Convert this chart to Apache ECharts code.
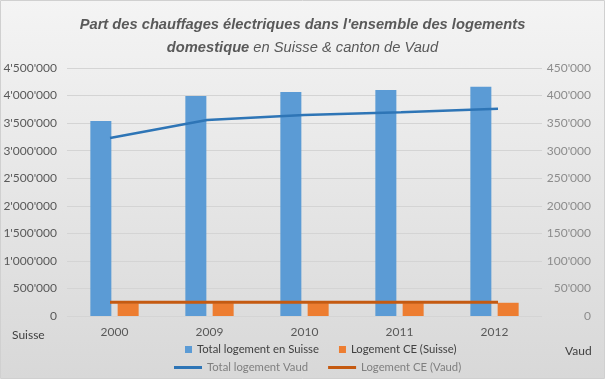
<!DOCTYPE html>
<html><head><meta charset="utf-8">
<script src="https://cdn.jsdelivr.net/npm/echarts@6/dist/echarts.min.js"></script>
<style>html,body{margin:0;padding:0;background:#fff}#c{width:605px;height:379px}</style>
</head><body><div id="c"></div>
<script>
var categories = ['2000', '2009', '2010', '2011', '2012'];
var totalSuisse = [3538000, 3990000, 4065000, 4100000, 4160000];
var ceSuisse = [230000, 232000, 232000, 232000, 240000];
var totalVaud = [323000, 355600, 364700, 369600, 376000];
var ceVaud = [25000, 25000, 25000, 25000, 25000];
var FONT = 'Lato';
var TFONT = 'Liberation Sans';

function fmt(v) { return String(v).replace(/\B(?=(\d{3})+(?!\d))/g, "'"); }

var chart = echarts.init(document.getElementById('c'), null, {renderer: 'canvas'});
chart.setOption({
  animation: false,
  textStyle: {fontFamily: FONT},
  graphic: [
    {type: 'rect', z: -10, silent: true, shape: {x: 0.5, y: 0.5, width: 604, height: 378},
      style: {fill: new echarts.graphic.LinearGradient(0, 0, 0, 1, [{offset: 0, color: '#f4f4f4'}, {offset: 1, color: '#d8d8d8'}]), stroke: '#d0d0d0', lineWidth: 1}},
    {type: 'text', left: 12, top: 329, style: {text: 'Suisse', fill: '#404040', font: '12px ' + FONT}},
    {type: 'text', left: 565, top: 345, style: {text: 'Vaud', fill: '#404040', font: '12px ' + FONT}}
  ],
  title: {
    left: 'center', top: 8,
    text: '{b|Part des chauffages électriques dans l\'ensemble des logements}\n{b|domestique}{n| en Suisse & canton de Vaud}',
    textStyle: {
      rich: {
        b: {fontFamily: TFONT, fontSize: 14.7, fontWeight: 700, fontStyle: 'italic', color: '#595959', lineHeight: 23},
        n: {fontFamily: TFONT, fontSize: 14.7, fontWeight: 400, fontStyle: 'italic', color: '#595959', lineHeight: 23}
      }
    }
  },
  legend: [
    {data: ['Total logement en Suisse', 'Logement CE (Suisse)'], left: 185, top: 344, padding: 0,
      icon: 'rect', itemWidth: 7, itemHeight: 7, itemGap: 20,
      textStyle: {color: '#404040', fontSize: 11.3, fontFamily: FONT}},
    {data: ['Total logement Vaud', 'Logement CE (Vaud)'], left: 174, top: 362, padding: 0,
      icon: 'rect', itemWidth: 28, itemHeight: 3, itemGap: 20,
      textStyle: {color: '#7f7f7f', fontSize: 11.3, fontFamily: FONT}}
  ],
  grid: [
    {left: 67, right: 63, top: 68, bottom: 63},
    {left: 110, right: 107, top: 68, bottom: 63}
  ],
  xAxis: [
    {type: 'category', gridIndex: 0, data: categories,
      axisLine: {show: false}, axisTick: {show: false},
      axisLabel: {color: '#595959', fontSize: 12, margin: 10, fontFamily: FONT}},
    {type: 'category', gridIndex: 1, data: categories, boundaryGap: false, show: false}
  ],
  yAxis: [
    {type: 'value', gridIndex: 0, min: 0, max: 4500000, interval: 500000,
      axisLine: {show: false}, axisTick: {show: false},
      splitLine: {lineStyle: {color: '#d4d4d4', width: 1}},
      axisLabel: {color: '#595959', fontSize: 12, margin: 10, formatter: fmt, fontFamily: FONT}},
    {type: 'value', gridIndex: 0, position: 'right', min: 0, max: 450000, interval: 50000,
      axisLine: {show: false}, axisTick: {show: false}, splitLine: {show: false},
      axisLabel: {color: '#8c8c8c', fontSize: 12, margin: 49, align: 'right', formatter: fmt, fontFamily: FONT}},
    {type: 'value', gridIndex: 1, min: 0, max: 450000, interval: 50000, show: false, splitLine: {show: false}}
  ],
  series: [
    {name: 'Total logement en Suisse', type: 'bar', xAxisIndex: 0, yAxisIndex: 0, data: totalSuisse,
      barWidth: 21, barGap: '30%', itemStyle: {color: '#5B9BD5'}},
    {name: 'Logement CE (Suisse)', type: 'bar', xAxisIndex: 0, yAxisIndex: 0, data: ceSuisse,
      barWidth: 21, barGap: '30%', itemStyle: {color: '#ED7D31'}},
    {name: 'Total logement Vaud', type: 'line', xAxisIndex: 1, yAxisIndex: 2, data: totalVaud,
      showSymbol: false, symbol: 'none', lineStyle: {color: '#2E75B6', width: 2.5}, itemStyle: {color: '#2E75B6'}},
    {name: 'Logement CE (Vaud)', type: 'line', xAxisIndex: 1, yAxisIndex: 2, data: ceVaud,
      showSymbol: false, symbol: 'none', lineStyle: {color: '#C55A11', width: 3}, itemStyle: {color: '#C55A11'}}
  ]
});
</script></body></html>
